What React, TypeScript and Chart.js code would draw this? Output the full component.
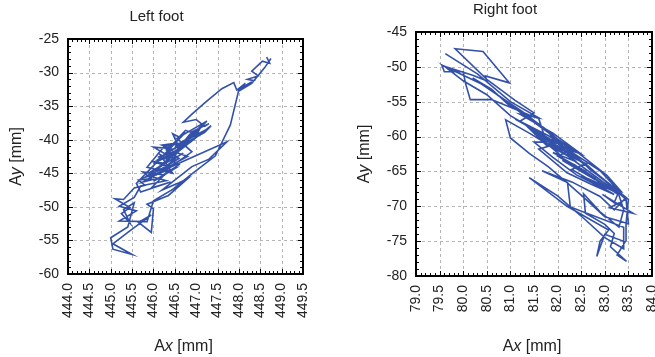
import React, { useEffect, useRef } from "react";
import { Chart, registerables } from "chart.js";

Chart.register(...registerables);

const LEFT_TITLE = "Left foot";
const RIGHT_TITLE = "Right foot";

const LEFT_X_TICKS = [444.0, 444.5, 445.0, 445.5, 446.0, 446.5, 447.0, 447.5, 448.0, 448.5, 449.0, 449.5];
const LEFT_Y_TICKS = [-25, -30, -35, -40, -45, -50, -55, -60];
const RIGHT_X_TICKS = [79.0, 79.5, 80.0, 80.5, 81.0, 81.5, 82.0, 82.5, 83.0, 83.5, 84.0];
const RIGHT_Y_TICKS = [-45, -50, -55, -60, -65, -70, -75, -80];

// Left foot trajectory: [Ax, Ay] in mm
const LEFT_XY: number[][] = [
  [448.65, -27.7], [448.72, -28.6], [448.55, -28.3], [448.3, -29.8], [448.45, -30.5], [448.2, -31.0],
  [448.35, -31.2], [448.05, -32.3], [448.15, -31.6], [447.95, -32.6], [447.88, -31.5], [447.6, -32.4],
  [447.2, -34.5], [446.9, -36.2], [446.7, -37.4], [447.0, -37.0], [447.2, -38.0], [447.3, -37.6],
  [446.9, -38.8], [447.1, -39.4], [446.75, -38.6], [446.6, -39.6], [446.45, -39.1], [446.55, -40.5],
  [446.2, -40.8], [446.4, -41.3], [446.0, -41.1], [446.3, -42.2], [446.1, -42.6], [446.5, -41.8],
  [446.25, -43.5], [445.95, -43.2], [446.35, -44.0], [446.05, -44.6], [446.2, -45.2], [445.75, -44.8],
  [445.95, -45.8], [445.65, -46.0], [445.8, -46.8], [445.55, -47.2], [445.3, -48.9], [445.1, -48.8],
  [445.45, -50.1], [445.25, -51.0], [445.45, -52.4], [445.3, -50.4], [445.55, -49.4], [445.4, -53.0],
  [445.0, -54.6], [445.05, -56.3], [445.5, -57.1], [445.05, -55.5], [445.4, -53.8], [445.95, -51.2],
  [445.65, -52.3], [445.95, -53.8], [446.0, -50.3], [445.85, -49.6], [446.35, -48.3], [446.8, -45.8],
  [446.6, -46.4], [446.2, -47.5], [446.9, -44.0], [447.3, -42.9], [447.72, -40.3], [446.7, -43.2],
  [446.15, -44.8], [446.5, -43.5], [446.8, -42.5], [446.4, -41.6], [446.65, -40.8], [446.85, -39.2],
  [447.1, -38.2], [446.95, -40.0], [446.55, -41.2], [447.2, -38.9], [447.35, -37.9],
  [446.1, -44.2], [446.6, -41.5], [446.0, -43.6], [446.9, -40.2], [446.3, -42.9], [447.0, -39.0],
  [446.5, -41.0], [447.3, -38.3], [446.8, -39.9], [446.2, -43.8], [446.7, -42.0], [445.9, -44.9],
  [446.4, -43.0], [445.8, -45.6], [446.5, -44.3], [446.0, -46.2], [446.6, -43.7], [446.15, -42.2],
  [446.45, -45.0], [445.85, -44.1], [446.25, -41.0], [446.7, -40.4], [446.3, -44.5], [446.9, -41.8],
  [446.55, -39.8], [447.15, -37.6], [446.95, -39.3], [447.25, -37.2], [446.65, -40.6], [446.1, -43.0],
  [446.55, -42.6], [446.05, -45.3], [446.4, -44.0], [445.75, -46.3], [446.2, -45.6], [445.95, -47.2],
  [446.4, -46.3], [445.7, -47.8], [445.6, -46.5],
  [446.75, -38.9], [446.3, -41.5], [446.6, -42.8], [445.9, -45.4], [446.3, -46.1], [445.7, -46.9],
  [445.55, -48.6], [445.2, -49.9], [445.6, -50.6], [445.2, -52.1], [445.85, -52.2], [446.0, -49.1],
  [446.45, -47.4], [446.9, -45.1], [447.45, -42.4], [447.8, -37.8], [447.99, -32.8], [448.3, -31.6],
  [448.6, -29.3], [448.75, -27.9],
];

// Right foot trajectory: [Ax, Ay] in mm
const RIGHT_XY: number[][] = [
  [79.62, -48.1], [80.3, -51.0], [81.0, -55.0], [81.6, -57.3], [81.2, -56.8], [81.9, -59.5],
  [82.5, -62.5], [82.2, -61.8], [82.9, -64.9], [83.3, -67.8], [83.2, -69.5], [82.95, -68.3],
  [83.6, -71.0], [83.1, -70.2], [83.45, -69.0], [83.5, -72.5], [83.0, -71.5], [82.6, -69.0],
  [82.2, -66.6], [81.8, -64.3], [81.4, -62.4], [81.0, -60.2], [80.9, -57.6], [81.4, -59.5],
  [82.0, -62.0], [82.6, -63.9], [82.3, -64.7], [82.7, -66.3], [83.3, -68.2],
  [81.3, -58.2], [81.8, -61.5], [81.5, -59.3], [82.1, -62.9], [81.7, -60.6], [82.4, -63.6],
  [81.9, -62.3], [82.6, -65.0], [82.1, -63.4], [82.8, -66.2], [82.35, -64.0], [83.0, -67.1],
  [82.5, -65.6], [83.2, -68.3], [82.7, -66.8], [82.2, -65.2], [81.6, -61.8], [82.0, -61.0],
  [81.4, -58.6], [81.1, -57.5], [81.65, -59.6], [82.25, -62.6], [81.85, -60.0], [82.45, -63.2],
  [82.9, -65.8], [83.25, -67.6], [82.75, -64.9], [82.15, -61.9], [81.75, -59.0], [81.25, -56.4],
  [80.8, -54.4], [81.05, -56.0], [80.6, -53.2], [80.2, -51.6], [80.7, -53.9], [81.3, -57.0],
  [81.9, -59.9], [82.45, -62.4], [83.05, -65.6], [83.35, -67.9],
  [82.9, -67.2], [82.4, -65.5], [81.9, -63.0], [81.5, -60.8], [81.76, -60.8], [81.6, -57.4],
  [81.4, -56.9], [80.6, -54.7], [80.15, -54.7], [80.05, -52.4], [80.0, -50.7], [79.6, -50.7],
  [79.55, -49.8], [80.2, -51.2], [80.5, -52.0], [80.47, -51.3], [80.98, -52.3], [80.42, -47.8],
  [79.83, -47.4], [80.5, -51.8], [81.1, -54.8], [81.5, -56.6], [81.2, -57.8], [81.9, -60.2],
  [82.3, -61.9], [82.0, -62.8], [82.6, -65.2], [82.8, -66.0], [82.5, -64.6], [83.0, -67.0],
  [83.3, -68.4], [83.4, -70.5], [83.3, -73.0], [82.9, -70.8], [82.55, -68.2], [82.59, -71.0],
  [83.0, -72.6], [83.2, -73.9], [83.12, -75.8], [83.46, -77.9], [83.26, -77.0], [83.43, -75.1],
  [83.0, -74.0], [82.83, -77.2], [82.9, -75.0], [83.08, -73.4], [82.2, -70.0], [81.4, -65.9],
  [82.0, -68.5], [82.6, -72.0], [83.0, -74.5], [83.4, -76.1], [83.4, -73.0], [82.27, -70.1],
  [82.21, -66.6], [81.67, -64.9], [82.3, -66.5], [82.9, -68.6], [83.2, -70.5], [83.43, -68.9],
  [82.59, -63.9], [82.0, -61.5], [81.5, -59.0], [81.0, -57.0], [80.5, -54.0], [80.0, -52.0],
  [79.6, -49.9], [80.4, -52.5], [81.2, -56.2], [81.8, -59.2], [82.3, -62.2], [82.7, -64.8],
  [83.1, -66.8], [83.5, -69.0], [83.45, -72.5], [83.45, -75.0],
];

const LINE_COLOR = "#3351a8";
const TEXT_COLOR = "#222";
const FONT = '"Liberation Sans", Arial, sans-serif';

type Part = { t: string; i: boolean };

function drawMixed(ctx: CanvasRenderingContext2D, parts: Part[], size: number, cx: number, cy: number, rot: number) {
  ctx.save();
  ctx.translate(cx, cy);
  ctx.rotate(rot);
  let w = 0;
  const widths = parts.map((p) => {
    ctx.font = `${p.i ? "italic " : ""}${size}px ${FONT}`;
    const m = ctx.measureText(p.t).width;
    w += m;
    return m;
  });
  let x = -w / 2;
  ctx.textAlign = "left";
  ctx.textBaseline = "middle";
  ctx.fillStyle = TEXT_COLOR;
  parts.forEach((p, k) => {
    ctx.font = `${p.i ? "italic " : ""}${size}px ${FONT}`;
    ctx.fillText(p.t, x, 0);
    x += widths[k];
  });
  ctx.restore();
}

function fmtX(v: number) {
  return v.toFixed(1);
}

function makeFramePlugin(title: string, xTicks: number[], yTicks: number[], xMinor: number, yMinor: number) {
  return {
    id: "frame",
    beforeDatasetsDraw(chart: any) {
      const { ctx, chartArea: a, scales } = chart;
      const xs = scales.x;
      const ys = scales.y;
      ctx.save();
      ctx.strokeStyle = "#b5b5b5";
      ctx.lineWidth = 1;
      ctx.setLineDash([3, 3]);
      xTicks.forEach((v) => {
        const px = Math.round(xs.getPixelForValue(v)) + 0.5;
        ctx.beginPath();
        ctx.moveTo(px, a.top);
        ctx.lineTo(px, a.bottom);
        ctx.stroke();
      });
      yTicks.forEach((v) => {
        const py = Math.round(ys.getPixelForValue(v)) + 0.5;
        ctx.beginPath();
        ctx.moveTo(a.left, py);
        ctx.lineTo(a.right, py);
        ctx.stroke();
      });
      ctx.restore();
    },
    afterDatasetsDraw(chart: any) {
      const { ctx, chartArea: a, scales, height } = chart;
      const xs = scales.x;
      const ys = scales.y;
      ctx.save();
      ctx.strokeStyle = "#000";
      ctx.lineWidth = 1;
      ctx.setLineDash([]);
      const xMin = xTicks[0];
      const xMax = xTicks[xTicks.length - 1];
      const nx = Math.round((xMax - xMin) / xMinor);
      for (let k = 0; k <= nx; k++) {
        const v = xMin + k * xMinor;
        const px = Math.round(xs.getPixelForValue(v)) + 0.5;
        const len = k % 5 === 0 ? 5 : 3;
        ctx.beginPath();
        ctx.moveTo(px, a.bottom);
        ctx.lineTo(px, a.bottom - len);
        ctx.moveTo(px, a.top);
        ctx.lineTo(px, a.top + len);
        ctx.stroke();
      }
      const yTop = yTicks[0];
      const yBot = yTicks[yTicks.length - 1];
      const ny = Math.round((yTop - yBot) / yMinor);
      for (let k = 0; k <= ny; k++) {
        const v = yBot + k * yMinor;
        const py = Math.round(ys.getPixelForValue(v)) + 0.5;
        const len = k % 5 === 0 ? 5 : 3;
        ctx.beginPath();
        ctx.moveTo(a.left, py);
        ctx.lineTo(a.left + len, py);
        ctx.moveTo(a.right, py);
        ctx.lineTo(a.right - len, py);
        ctx.stroke();
      }
      ctx.lineWidth = 2;
      ctx.strokeRect(a.left, a.top, a.right - a.left, a.bottom - a.top);

      ctx.fillStyle = TEXT_COLOR;
      ctx.font = `14px ${FONT}`;
      ctx.textAlign = "right";
      ctx.textBaseline = "middle";
      yTicks.forEach((v) => {
        ctx.fillText(String(v), a.left - 9, ys.getPixelForValue(v));
      });
      xTicks.forEach((v) => {
        ctx.save();
        ctx.translate(xs.getPixelForValue(v), a.bottom + 9);
        ctx.rotate(-Math.PI / 2);
        ctx.textAlign = "right";
        ctx.textBaseline = "middle";
        ctx.fillText(fmtX(v), 0, 0);
        ctx.restore();
      });
      ctx.restore();

      const cx = (a.left + a.right) / 2;
      const cy = (a.top + a.bottom) / 2;
      ctx.save();
      ctx.fillStyle = TEXT_COLOR;
      ctx.font = `15px ${FONT}`;
      ctx.textAlign = "center";
      ctx.textBaseline = "middle";
      ctx.fillText(title, cx - 29, a.top - 22);
      ctx.restore();
      drawMixed(ctx, [{ t: "A", i: false }, { t: "x", i: true }, { t: " [mm]", i: false }], 16, cx - 2, height - 10, 0);
      drawMixed(ctx, [{ t: "A", i: false }, { t: "y", i: true }, { t: " [mm]", i: false }], 16, a.left - 51, cy, -Math.PI / 2);
    },
  };
}

function FootChart(props: {
  title: string;
  points: number[][];
  xTicks: number[];
  yTicks: number[];
  width: number;
  height: number;
  padding: { left: number; right: number; top: number; bottom: number };
}) {
  const ref = useRef<HTMLCanvasElement | null>(null);
  useEffect(() => {
    if (!ref.current) return;
    const data = props.points.map((p) => ({ x: p[0], y: p[1] }));
    const chart = new Chart(ref.current, {
      type: "scatter",
      data: {
        datasets: [
          {
            data,
            showLine: true,
            borderColor: LINE_COLOR,
            backgroundColor: LINE_COLOR,
            borderWidth: 1.6,
            pointRadius: 0,
            tension: 0,
          } as any,
        ],
      },
      options: {
        responsive: false,
        maintainAspectRatio: false,
        animation: false,
        layout: { padding: props.padding },
        plugins: { legend: { display: false }, tooltip: { enabled: false }, title: { display: false } },
        scales: {
          x: {
            type: "linear",
            min: props.xTicks[0],
            max: props.xTicks[props.xTicks.length - 1],
            display: false,
          },
          y: {
            type: "linear",
            min: props.yTicks[props.yTicks.length - 1],
            max: props.yTicks[0],
            display: false,
          },
        },
      },
      plugins: [makeFramePlugin(props.title, props.xTicks, props.yTicks, 0.1, 1)],
    });
    return () => chart.destroy();
  }, []);
  return (
    <canvas
      ref={ref}
      width={props.width}
      height={props.height}
      style={{ display: "block", width: props.width, height: props.height }}
    />
  );
}

export default function App() {
  return (
    <div style={{ position: "absolute", left: 0, top: 0, width: 655, height: 357, background: "#fff" }}>
      <div style={{ position: "absolute", left: 0, top: 0 }}>
        <FootChart
          title={LEFT_TITLE}
          points={LEFT_XY}
          xTicks={LEFT_X_TICKS}
          yTicks={LEFT_Y_TICKS}
          width={330}
          height={357}
          padding={{ left: 68, right: 27, top: 39, bottom: 83 }}
        />
      </div>
      <div style={{ position: "absolute", left: 330, top: 0 }}>
        <FootChart
          title={RIGHT_TITLE}
          points={RIGHT_XY}
          xTicks={RIGHT_X_TICKS}
          yTicks={RIGHT_Y_TICKS}
          width={325}
          height={357}
          padding={{ left: 86, right: 3, top: 32, bottom: 81 }}
        />
      </div>
    </div>
  );
}
